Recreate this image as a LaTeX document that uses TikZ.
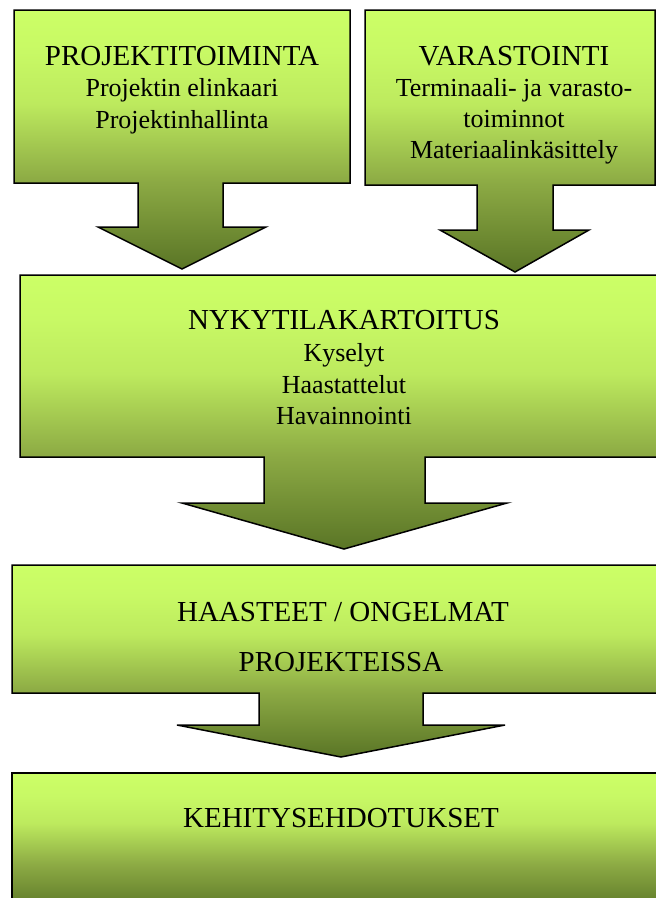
\documentclass[tikz,border=0pt]{standalone}
\usepackage{fontspec}
\setmainfont{Liberation Serif}

% lime fading to olive, top to bottom of each shape
\definecolor{gtop}{HTML}{CCFF66}
\definecolor{gupper}{HTML}{C8F965}
\definecolor{gmid}{HTML}{BDEA5E}
\definecolor{glow}{HTML}{8CAA44}
\definecolor{gbot}{HTML}{5A7526}
\pgfdeclareverticalshading{limefade}{100bp}{%
  color(0bp)=(gbot); color(25bp)=(gbot); color(42bp)=(glow);
  color(57bp)=(gmid); color(67bp)=(gupper); color(75bp)=(gtop);
  color(100bp)=(gtop)}

\tikzset{
  blockshape/.style={draw=black, line width=1.5pt, line join=miter, shading=limefade},
  titletext/.style={anchor=base, inner sep=0pt, font=\fontsize{29}{31}\selectfont},
  subtext/.style={anchor=base, inner sep=0pt, font=\fontsize{26}{31}\selectfont}
}

\begin{document}
\begin{tikzpicture}[x=1pt, y=1pt]
\useasboundingbox (0,0) rectangle (656,-898);
\clip (0,0) rectangle (656,-898);

% project activities, with arrow down
\shade[blockshape] (14,-10) -- (350,-10) -- (350,-183) -- (223,-183) -- (223,-227)
  -- (266,-227) -- (182,-269) -- (98,-227) -- (138,-227) -- (138,-183)
  -- (14,-183) -- cycle;
% warehousing, with arrow down
\shade[blockshape] (365,-10) -- (655,-10) -- (655,-185) -- (553,-185) -- (553,-230)
  -- (589,-230) -- (515,-272) -- (440,-230) -- (477,-230) -- (477,-185)
  -- (365,-185) -- cycle;
% current state survey
\shade[blockshape] (20,-275) -- (662,-275) -- (662,-457) -- (425,-457) -- (425,-503)
  -- (507,-503) -- (344,-549) -- (182,-503) -- (264,-503) -- (264,-457)
  -- (20,-457) -- cycle;
% challenges in projects
\shade[blockshape] (12,-565) -- (662,-565) -- (662,-693) -- (423,-693) -- (423,-725)
  -- (505,-725) -- (341,-757) -- (177,-725) -- (259,-725) -- (259,-693)
  -- (12,-693) -- cycle;
% development proposals
\shade[blockshape] (12,-773) -- (662,-773) -- (662,-912) -- (12,-912) -- cycle;

% texts
\node[titletext] (pt) at (182,-65) {PROJEKTITOIMINTA};
\node[subtext] (pa) at (182,-96) {Projektin elinkaari};
\node[subtext] (pb) at (182,-128) {Projektinhallinta};

\node[titletext] (vt) at (514,-65) {VARASTOINTI};
\node[subtext] (va) at (514,-96) {Terminaali- ja varasto-};
\node[subtext] (vb) at (514,-127) {toiminnot};
\node[subtext] (vc) at (514,-158) {Materiaalinkäsittely};

\node[titletext] (nt) at (344,-329) {NYKYTILAKARTOITUS};
\node[subtext] (na) at (344,-361) {Kyselyt};
\node[subtext] (nb) at (344,-393) {Haastattelut};
\node[subtext] (nc) at (344,-424) {Havainnointi};

\node[titletext] (ht) at (343,-621) {HAASTEET / ONGELMAT};
\node[titletext] (hb) at (341,-671) {PROJEKTEISSA};

\node[titletext] (kt) at (341,-827) {KEHITYSEHDOTUKSET};
\end{tikzpicture}
\end{document}
